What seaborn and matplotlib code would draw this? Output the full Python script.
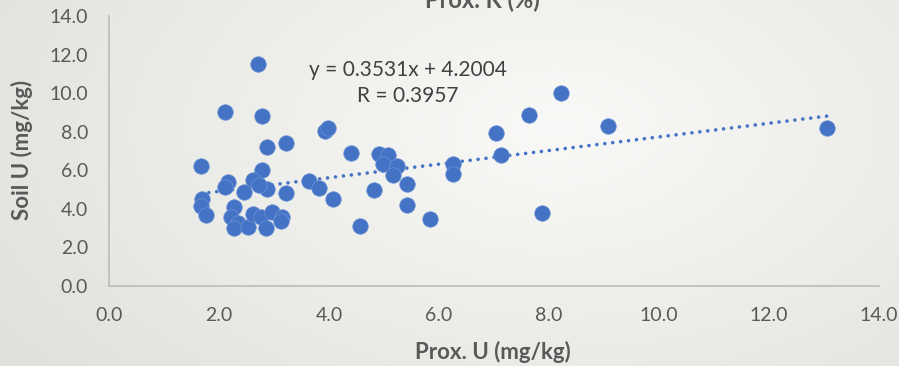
import numpy as np
import pandas as pd
import matplotlib
matplotlib.use("Agg")
import matplotlib.pyplot as plt
import seaborn as sns

# ---- data ----
prox_u = [2.70, 2.11, 2.79, 2.88, 3.21, 1.68, 2.79, 2.62, 2.17, 2.10,
          2.45, 2.88, 2.73, 3.22, 1.69, 1.67, 1.77, 2.28, 2.22, 2.35,
          2.28, 2.53, 2.62, 2.77, 2.96, 3.14, 3.12, 2.86, 3.93, 3.99,
          4.40, 4.91, 5.08, 4.99, 5.23, 5.17, 3.64, 3.81, 4.07, 4.82,
          5.41, 5.41, 4.56, 5.84, 6.26, 6.26, 7.12, 7.04, 7.88, 8.22,
          7.63, 9.07, 13.06]
soil_u = [11.5, 9.0, 8.8, 7.2, 7.4, 6.2, 6.0, 5.5, 5.4, 5.15,
          4.9, 5.05, 5.25, 4.8, 4.5, 4.15, 3.7, 4.1, 3.6, 3.25,
          3.0, 3.05, 3.73, 3.6, 3.82, 3.58, 3.38, 3.0, 8.05, 8.2,
          6.9, 6.83, 6.78, 6.35, 6.22, 5.75, 5.43, 5.08, 4.52, 5.0,
          5.3, 4.2, 3.1, 3.5, 6.32, 5.8, 6.8, 7.95, 3.8, 10.0,
          8.86, 8.3, 8.2]
slope = 0.3531
intercept = 4.2004
r_value = 0.3957
x_ticks = [0, 2, 4, 6, 8, 10, 12, 14]
y_ticks = [0, 2, 4, 6, 8, 10, 12, 14]

title = "Prox. K (%)"
x_label = "Prox. U (mg/kg)"
y_label = "Soil U (mg/kg)"

df = pd.DataFrame({"x": prox_u, "y": soil_u})
trend_x = [min(prox_u), max(prox_u)]
trend_df = pd.DataFrame({"x": trend_x, "y": [slope * v + intercept for v in trend_x]})

sns.set_theme(style="white")
plt.rcParams["font.family"] = ["Lato", "DejaVu Sans"]

W, H = 899, 366
fig = plt.figure(figsize=(W / 100, H / 100), dpi=100)

# background gradient
bg = fig.add_axes([0, 0, 1, 1], zorder=-10)
xx = np.linspace(0, 1, 300)
yy = np.linspace(0, 1, 120)
X, Y = np.meshgrid(xx, yy)
d = np.sqrt(((X - 0.62) / 0.75) ** 2 + ((Y - 0.35) / 1.1) ** 2)
d = np.clip(d, 0, 1)
c_in = np.array([249, 249, 247]) / 255
c_out = np.array([224, 225, 219]) / 255
img = c_in[None, None, :] * (1 - d[..., None]) + c_out[None, None, :] * d[..., None]
bg.imshow(img, aspect="auto", extent=[0, 1, 0, 1], origin="upper")
bg.set_axis_off()

ax = fig.add_axes([109 / W, 80 / H, 770 / W, 270 / H])
ax.set_facecolor("none")

sns.lineplot(data=trend_df, x="x", y="y", ax=ax, color="#4472C4", lw=2.6,
             dashes=False, zorder=2)
line = ax.lines[-1]
line.set_dashes((0.01, 2.2))
line.set_dash_capstyle("round")

sns.scatterplot(data=df, x="x", y="y", ax=ax, s=125, color="#4472C4",
                edgecolor="#6f93d6", linewidth=0.5, zorder=3)

ax.set_xlim(0, 14)
ax.set_ylim(0, 14)
ax.set_xticks(x_ticks)
ax.set_yticks(y_ticks)
ax.set_xticklabels([f"{v:.1f}" for v in x_ticks])
ax.set_yticklabels([f"{v:.1f}" for v in y_ticks])
ax.tick_params(axis="both", length=0, labelsize=14, colors="#595959")
ax.tick_params(axis="x", pad=15)
ax.tick_params(axis="y", pad=15)

for s in ["top", "right"]:
    ax.spines[s].set_visible(False)
for s in ["left", "bottom"]:
    ax.spines[s].set_color("#bfbfbf")
    ax.spines[s].set_linewidth(1.3)

ax.set_xlabel("")
ax.set_ylabel("")
fig.text(493 / W, 1 - 352 / H, x_label, ha="center", va="center",
         fontsize=16, fontweight="bold", color="#595959")
fig.text(22 / W, 1 - 150 / H, y_label, ha="center", va="center", rotation=90,
         fontsize=16, fontweight="bold", color="#595959")
fig.text(482 / W, 1 - 8 / H, title, ha="center", va="baseline",
         fontsize=17, fontweight="bold", color="#595959")

ax.text((408 - 109) / 770, (286 - 70) / 270, f"y = {slope}x + {intercept}",
        transform=ax.transAxes, ha="center", va="center", fontsize=15, color="#404040")
ax.text((408 - 109) / 770, (286 - 96) / 270, f"R = {r_value}",
        transform=ax.transAxes, ha="center", va="center", fontsize=15, color="#404040")

fig.savefig("out.png", dpi=100)
